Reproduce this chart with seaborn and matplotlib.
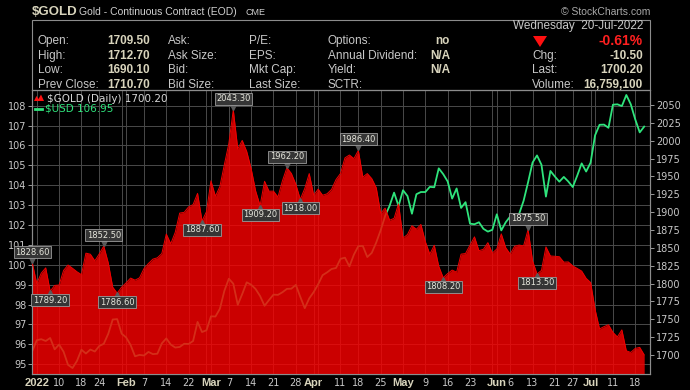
import numpy as np
import pandas as pd
import matplotlib
matplotlib.use("Agg")
import matplotlib.pyplot as plt
import seaborn as sns
from matplotlib.patches import Polygon, Rectangle
from matplotlib.lines import Line2D
import matplotlib.transforms as mtransforms

# ---------------- data ----------------
holidays = ["2022-01-17", "2022-02-21", "2022-04-15", "2022-05-30", "2022-06-20", "2022-07-04"]
dates = pd.bdate_range("2021-12-31", "2022-07-20")
dates = dates[~dates.isin(pd.to_datetime(holidays))]

gold = [1828.6, 1800.1, 1814.6, 1822.0, 1789.2, 1797.4, 1798.0, 1818.4, 1826.0, 1821.4,
        1816.5, 1812.5, 1842.6, 1841.1, 1831.8, 1841.7, 1852.5, 1829.1, 1795.0, 1786.6,
        1795.0, 1801.0, 1807.7, 1804.8, 1808.0, 1820.9, 1828.1, 1834.2, 1836.1, 1842.1,
        1869.4, 1855.7, 1871.8, 1898.7, 1899.7, 1907.4, 1910.6, 1926.3, 1887.6, 1900.7,
        1943.8, 1922.2, 1935.9, 1966.6, 1995.9, 2043.3, 1988.4, 2000.4, 1985.0, 1960.8,
        1929.7, 1909.2, 1943.2, 1929.3, 1929.4, 1921.1, 1943.8, 1962.2, 1954.2, 1939.0,
        1918.0, 1933.1, 1954.0, 1923.7, 1932.2, 1923.6, 1925.7, 1931.8, 1945.6, 1954.1,
        1976.0, 1980.0, 1974.9, 1986.4, 1949.1, 1954.0, 1947.0, 1934.3, 1898.4, 1905.6,
        1888.7, 1891.3, 1911.7, 1863.6, 1868.7, 1881.0, 1876.0, 1882.8, 1858.7, 1841.1,
        1853.7, 1824.2, 1808.2, 1814.0, 1818.9, 1815.9, 1841.2, 1842.1, 1853.8, 1865.4,
        1846.0, 1848.0, 1857.3, 1842.7, 1848.4, 1869.6, 1850.2, 1841.3, 1852.2, 1853.9,
        1852.8, 1875.5, 1831.8, 1813.5, 1818.4, 1851.4, 1838.6, 1838.2, 1837.6, 1830.0,
        1830.3, 1824.8, 1821.2, 1817.5, 1807.3, 1801.5, 1763.9, 1736.5, 1739.7, 1742.3,
        1731.7, 1725.3, 1735.2, 1705.8, 1703.6, 1709.2, 1710.7, 1700.2]

usd = [95.67, 96.21, 96.26, 96.17, 96.32, 95.75, 95.99, 95.63, 94.97, 94.81,
       95.17, 95.73, 95.54, 95.74, 95.64, 95.92, 96.03, 96.53, 97.25, 97.27,
       96.54, 96.35, 95.97, 95.40, 95.47, 95.44, 95.62, 95.51, 95.53, 96.05,
       96.30, 95.99, 95.84, 95.87, 96.03, 96.02, 96.17, 97.13, 96.62, 96.71,
       97.41, 97.40, 97.79, 98.69, 99.30, 99.05, 97.99, 98.53, 99.12, 99.00,
       98.78, 98.43, 97.94, 98.23, 98.50, 98.49, 98.62, 98.79, 98.80, 98.99,
       98.39, 97.82, 98.31, 98.63, 99.02, 99.48, 99.62, 99.79, 99.84, 100.30,
       100.36, 99.92, 100.51, 100.94, 100.95, 100.39, 100.60, 101.12, 101.74, 102.46,
       102.97, 103.63, 102.96, 103.75, 103.46, 102.57, 103.55, 103.66, 103.66, 103.92,
       103.90, 104.85, 104.56, 104.19, 103.33, 103.84, 102.86, 103.15, 102.07, 102.04,
       102.14, 101.81, 101.67, 101.76, 102.54, 101.73, 102.14, 102.43, 102.34, 102.56,
       103.22, 104.15, 105.14, 105.50, 105.03, 103.43, 104.72, 104.44, 104.18, 104.42,
       104.19, 103.91, 104.48, 105.10, 104.69, 105.14, 106.51, 107.04, 107.05, 106.89,
       108.05, 108.07, 107.98, 108.54, 108.07, 107.31, 106.66, 106.95]

# labelled x ticks (date -> text)
tick_dates = ["2022-01-03", "2022-01-10", "2022-01-18", "2022-01-24", "2022-02-01", "2022-02-07",
              "2022-02-14", "2022-02-22", "2022-03-01", "2022-03-07", "2022-03-14", "2022-03-21",
              "2022-03-28", "2022-04-01", "2022-04-11", "2022-04-18", "2022-04-25", "2022-05-02",
              "2022-05-09", "2022-05-16", "2022-05-23", "2022-06-01", "2022-06-06", "2022-06-13",
              "2022-06-21", "2022-06-27", "2022-07-01", "2022-07-11", "2022-07-18"]
tick_texts = ["2022", "10", "18", "24", "Feb", "7", "14", "22", "Mar", "7", "14", "21", "28",
              "Apr", "11", "18", "25", "May", "9", "16", "23", "Jun", "6", "13", "21", "27",
              "Jul", "11", "18"]
extra_grid_dates = ["2022-01-31", "2022-02-28", "2022-04-04", "2022-05-31", "2022-07-05"]

# annotated gold points (date, side)
note_dates = ["2021-12-31", "2022-01-06", "2022-01-25", "2022-01-28", "2022-02-25", "2022-03-08",
              "2022-03-16", "2022-03-24", "2022-03-29", "2022-04-18", "2022-05-13", "2022-06-10",
              "2022-06-14"]
note_sides = ["up", "down", "up", "down", "down", "up", "down", "up", "down", "up", "down", "up", "down"]

hdr_labels = [["Open:", "High:", "Low:", "Prev Close:"],
              ["Ask:", "Ask Size:", "Bid:", "Bid Size:"],
              ["P/E:", "EPS:", "Mkt Cap:", "Last Size:"],
              ["Options:", "Annual Dividend:", "Yield:", "SCTR:"],
              ["", "Chg:", "Last:", "Volume:"]]
hdr_vals1 = ["1709.50", "1712.70", "1690.10", "1710.70"]
hdr_vals4 = ["no", "N/A", "N/A", ""]
hdr_vals5 = ["-0.61%", "-10.50", "1700.20", "16,759,100"]

# ---------------- figure ----------------
W, H = 690, 390
fig = plt.figure(figsize=(W / 100, H / 100), dpi=100, facecolor="black")

def fx(x):
    return x / W

def fy(y):
    return 1 - y / H

PL, PR, PT, PB = 32, 650, 90, 374
ax = fig.add_axes([fx(PL), fy(PB), (PR - PL) / W, (PB - PT) / H])
ax.set_facecolor("black")
ax2 = ax.twinx()

pos = {d: i for i, d in enumerate(dates.strftime("%Y-%m-%d"))}
xs = np.arange(len(dates))
df = pd.DataFrame({"x": xs, "gold": gold, "usd": usd})

GREEN = "#2fe47c"
sns.lineplot(data=df, x="x", y="usd", ax=ax, color=GREEN, lw=1.3)
ax2.fill_between(df["x"], df["gold"], 1600, color="#ff0000", alpha=0.8, lw=0, zorder=2)
sns.lineplot(data=df, x="x", y="gold", ax=ax2, color="#f00000", lw=0.7, zorder=3)

ax.set_xlim(-0.07, 138.3)
ax.set_ylim(94.51, 108.79)
ax2.set_ylim(1673.4, 2071)
for a in (ax, ax2):
    a.set_xlabel("")
    a.set_ylabel("")

# grid
grid_pos = sorted([pos[d] for d in tick_dates] + [pos[d] for d in extra_grid_dates])
ax.set_xticks(grid_pos)
lab_map = {pos[d]: t for d, t in zip(tick_dates, tick_texts)}
ax.set_xticklabels([lab_map.get(p, "") for p in grid_pos])
ax.set_yticks(range(95, 109))
ax.set_yticklabels([str(v) for v in range(95, 109)])
ax2.set_yticks(range(1700, 2051, 25))
ax2.set_yticklabels([str(v) for v in range(1700, 2051, 25)])
ax.grid(True, color="#4a4a4a", lw=0.7)
ax.set_axisbelow(True)

LBL = "#c8c8c8"
ax.tick_params(axis="y", colors="#9a9a9a", labelcolor=LBL, labelsize=7, length=3, width=0.7, pad=1)
ax2.tick_params(axis="y", colors="#9a9a9a", labelcolor=LBL, labelsize=7, length=3, width=0.7, pad=1.5)
ax.tick_params(axis="x", length=0, labelcolor=LBL, labelsize=7, pad=3)
for lab in ax.get_xticklabels():
    t = lab.get_text()
    if t and (t.isalpha() or t == "2022"):
        lab.set_fontweight("bold")
        lab.set_fontfamily("Liberation Sans")
        lab.set_fontsize(8)
        lab.set_color("#d8d4bc")
for a in (ax, ax2):
    for s in a.spines.values():
        s.set_color("#8c8c8c")
        s.set_linewidth(0.8)

# annotations on gold
for d, side in zip(note_dates, note_sides):
    k = pos[d]
    v = gold[k]
    if side == "up":
        dy, mk, toff = 11, "v", 4
    else:
        dy, mk, toff = -9, "^", -3
    tr = mtransforms.offset_copy(ax2.transData, fig=fig, x=0, y=toff, units="dots")
    ax2.plot([k], [v], marker=mk, ms=6, color="#5a5a5a", transform=tr, clip_on=False, zorder=5)
    ax2.annotate(f"{v:.2f}", xy=(k, v), xytext=(0, dy * 0.72), textcoords="offset points",
                 ha="center", va="center", fontsize=6, color="#e6e6dc", family="DejaVu Sans",
                 annotation_clip=False, zorder=6,
                 bbox=dict(boxstyle="square,pad=0.18", fc="#353535", ec="#9a9a9a", lw=0.6))

# in-chart legend
fig.patches.append(Polygon([(fx(34), fy(101)), (fx(36.5), fy(96)), (fx(38.5), fy(99)),
                            (fx(41), fy(94.5)), (fx(44), fy(101))],
                           closed=True, fc="#ff1010", ec="none", transform=fig.transFigure))
fig.text(fx(47), fy(98.5), "$GOLD (Daily) 1700.20", color="#d8d8d8", fontsize=7.5,
         family="DejaVu Sans", va="center", ha="left", parse_math=False)
fig.lines.append(Line2D([fx(35), fx(42)], [fy(108.5), fy(108.5)], color=GREEN, lw=2,
                        transform=fig.transFigure))
fig.text(fx(45), fy(108.5), "$USD 106.95", color=GREEN, fontsize=7.5,
         family="DejaVu Sans", va="center", ha="left", parse_math=False)

# ---------------- header ----------------
HF = "Liberation Sans"
fig.text(fx(32), fy(12), "$GOLD", color="#d8d4bc", fontsize=9.5, fontweight="bold",
         family=HF, va="center", ha="left", parse_math=False)
fig.text(fx(79), fy(12), "Gold - Continuous Contract (EOD)", color="#d0d0d0", fontsize=7.5,
         family=HF, va="center", ha="left")
fig.text(fx(245), fy(12.5), "CME", color="#d0d0d0", fontsize=6.5, family=HF, va="center", ha="left")
fig.text(fx(650), fy(12), "\u00a9 StockCharts.com", color="#a8a8a8", fontsize=7.5, family=HF,
         va="center", ha="right")

fig.patches.append(Rectangle((fx(PL), fy(PT)), (PR - PL) / W, (PT - 20) / H, fill=False,
                             ec="#8c8c8c", lw=0.8, transform=fig.transFigure))

LAB = "#c8c8c8"
VAL = "#d8d4bc"
rows = [41, 56, 70, 85]
cols = [38, 168, 249, 328, 532]
for ci, col in enumerate(hdr_labels):
    for ri, t in enumerate(col):
        if t:
            fig.text(fx(cols[ci]), fy(rows[ri]), t, color=LAB, fontsize=8.5, family=HF,
                     va="center", ha="left")
for ri, t in enumerate(hdr_vals1):
    fig.text(fx(150), fy(rows[ri]), t, color=VAL, fontsize=8.5, fontweight="bold", family=HF,
             va="center", ha="right")
for ri, t in enumerate(hdr_vals4):
    if t:
        fig.text(fx(450), fy(rows[ri]), t, color=VAL, fontsize=8.5, fontweight="bold", family=HF,
                 va="center", ha="right")
for ri, t in enumerate(hdr_vals5):
    if ri == 0:
        fig.text(fx(643), fy(rows[ri]), t, color="#ff2020", fontsize=10, fontweight="bold",
                 family=HF, va="center", ha="right")
    else:
        fig.text(fx(643), fy(rows[ri]), t, color=VAL, fontsize=8.5, fontweight="bold", family=HF,
                 va="center", ha="right")
fig.text(fx(643), fy(26), "Wednesday  20-Jul-2022", color=LAB, fontsize=8.5, family=HF,
         va="center", ha="right")
fig.patches.append(Polygon([(fx(533), fy(36)), (fx(547), fy(36)), (fx(540), fy(47))], closed=True,
                           fc="#ff1010", ec="none", transform=fig.transFigure))

fig.savefig("out.png", dpi=100, facecolor="black")
